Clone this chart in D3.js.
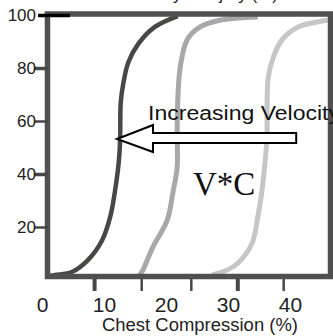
<!DOCTYPE html>
<html>
<head>
<meta charset="utf-8">
<script src="https://cdn.jsdelivr.net/npm/d3@7"></script>
<style>
  html, body { margin: 0; padding: 0; background: #fff; }
  svg { display: block; font-family: Arial, "Liberation Sans", sans-serif; }
</style>
</head>
<body>
<svg id="chart" width="333" height="336"></svg>
<script>
'use strict';

// curve samples: [chest compression %, cumulative %]
var fastCurve = [[1.3, 1.5], [2.1, 1.9], [4.8, 3], [7.4, 7.5], [9.7, 15], [11.0, 23.8],
  [11.8, 34], [12.4, 45], [12.6, 53], [12.7, 67], [13.1, 74], [13.9, 82], [15.5, 89],
  [18.2, 95.5], [21.9, 99.6]];
var midCurve = [[15.6, 1.5], [16.1, 3], [17.9, 12.5], [20.2, 22.6], [21.1, 32.8], [21.8, 42.6],
  [21.8, 55.5], [21.9, 68], [22.3, 80.4], [23.4, 90.6], [25.5, 95.5], [28.7, 98],
  [34.8, 99.2]];
var slowCurve = [[27.4, 1.9], [29.5, 3.4], [31.6, 6.4], [33.9, 14], [34.8, 23.8], [35.5, 34],
  [36.0, 45.3], [36.3, 54], [36.3, 64], [36.5, 76.6], [37.3, 84], [38.7, 90.6],
  [41.3, 95.5], [44.5, 97.4], [46.1, 98.1]];

var xTickLabels = [0, 10, 20, 30, 40];
var xTickMarks = [8.4, 16, 24, 31.5, 38.9];   // marks under the axis (offset from the labels in the original)
var yTickLabels = [20, 40, 60, 80, 100];

// arrow, in data units: tip on the fast curve, tail to the right
var arrowTip = [12.1, 53.2];
var arrowTail = 41.0;

var svg = d3.select('#chart');

var x = d3.scaleLinear().domain([0, 40]).range([42, 290]);
var y = d3.scaleLinear().domain([0, 100]).range([280, 15]);

// title, cut off at the top of the picture (only descenders show)
svg.append('text')
  .attr('x', 190)
  .attr('y', -0.5)
  .attr('text-anchor', 'middle')
  .style('font-size', '17px')
  .attr('fill', '#222')
  .text('Probability of Injury (%)');

var line = d3.line()
  .x(function(d) { return x(d[0]); })
  .y(function(d) { return y(d[1]); })
  .curve(d3.curveCatmullRom.alpha(0.5));

var series = [
  { pts: slowCurve, color: '#c6c6c8', width: 5 },
  { pts: midCurve, color: '#a8a8aa', width: 5 },
  { pts: fastCurve, color: '#454845', width: 4.5 }
];

svg.selectAll('path.curve')
  .data(series)
  .enter().append('path')
  .attr('class', 'curve')
  .attr('d', function(d) { return line(d.pts); })
  .attr('fill', 'none')
  .attr('stroke', function(d) { return d.color; })
  .attr('stroke-width', function(d) { return d.width; })
  .attr('stroke-linejoin', 'round');

// plot frame
svg.append('rect')
  .attr('x', 47.5).attr('y', 14)
  .attr('width', 283).attr('height', 262.5)
  .attr('fill', 'none')
  .attr('stroke', '#505050')
  .attr('stroke-width', 5.5);

// y axis ticks + labels
var yAxis = svg.append('g')
  .attr('transform', 'translate(48,0)')
  .call(d3.axisLeft(y).tickValues(yTickLabels).tickSize(14).tickPadding(0).tickSizeOuter(0));
yAxis.select('.domain').remove();
yAxis.selectAll('.tick line')
  .attr('stroke', function(d) { return d === 100 ? '#000' : '#474747'; })
  .attr('stroke-width', function(d) { return d === 100 ? 3.5 : (d === 40 || d === 80 ? 3.5 : 2.5); })
  .attr('x2', function(d) { return d === 100 ? -10 : -14; })
  .attr('x1', function(d) { return d === 100 ? 22 : 0; });
yAxis.selectAll('.tick text')
  .attr('x', -12)
  .attr('dy', '0.35em')
  .attr('fill', '#222')
  .style('font-size', '17px')
  .style('font-family', 'Arial, "Liberation Sans", sans-serif');

// x axis marks under the frame
var xMarks = svg.append('g')
  .attr('transform', 'translate(0,279)')
  .call(d3.axisBottom(x).tickValues(xTickMarks).tickSize(12).tickFormat('').tickSizeOuter(0));
xMarks.select('.domain').remove();
xMarks.selectAll('.tick line')
  .attr('stroke', '#474747')
  .attr('stroke-width', function(d, i) { return i % 3 === 0 ? 4 : 2.5; });

// x labels
var xLabels = svg.append('g')
  .attr('transform', 'translate(0,297)')
  .call(d3.axisBottom(x).tickValues(xTickLabels).tickSize(0).tickPadding(0).tickSizeOuter(0));
xLabels.select('.domain').remove();
xLabels.selectAll('.tick text')
  .attr('y', 0)
  .attr('dy', '0.72em')
  .attr('fill', '#222')
  .style('font-size', '21px')
  .style('font-family', 'Arial, "Liberation Sans", sans-serif');

svg.append('text')
  .attr('x', 102)
  .attr('y', 331)
  .attr('fill', '#222')
  .style('font-size', '18px')
  .attr('textLength', 196)
  .attr('lengthAdjust', 'spacingAndGlyphs')
  .text('Chest Compression (%)');

// arrow
var tipX = x(arrowTip[0]), tipY = y(arrowTip[1]), tailX = x(arrowTail);
var headX = tipX + 36;
var arrowPts = [[tipX, tipY], [headX, tipY - 14], [headX, tipY - 6], [tailX, tipY - 6],
  [tailX, tipY + 4], [headX, tipY + 4], [headX, tipY + 13]];
svg.append('path')
  .attr('d', d3.line()(arrowPts) + 'Z')
  .attr('fill', '#fff')
  .attr('stroke', '#000')
  .attr('stroke-width', 2)
  .attr('stroke-linejoin', 'miter');

svg.append('text')
  .attr('x', 148)
  .attr('y', 120)
  .attr('fill', '#111')
  .style('font-size', '20px')
  .attr('textLength', 192)
  .attr('lengthAdjust', 'spacingAndGlyphs')
  .text('Increasing Velocity');

svg.append('text')
  .attr('x', 193)
  .attr('y', 195)
  .attr('fill', '#111')
  .style('font-family', '"Liberation Serif", "Times New Roman", serif')
  .style('font-size', '33px')
  .text('V*C');
</script>
</body>
</html>
